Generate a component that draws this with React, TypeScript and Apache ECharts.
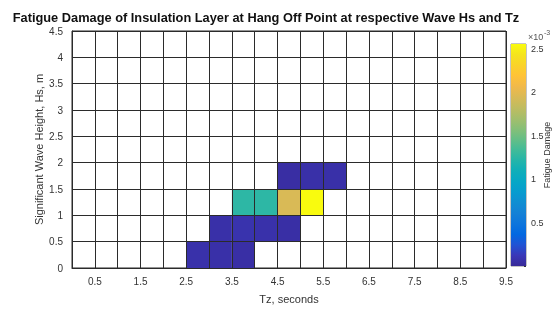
import React, { useEffect, useRef } from "react";
import * as echarts from "echarts";

// ---- data ----
const xTickLabels = ["0.5", "1.5", "2.5", "3.5", "4.5", "5.5", "6.5", "7.5", "8.5", "9.5"];
const yTickLabels = ["0", "0.5", "1", "1.5", "2", "2.5", "3", "3.5", "4", "4.5"];
const colorbarTickLabels = ["0.5", "1", "1.5", "2", "2.5"];
// left edge of each Tz bin (s) and bottom edge of each Hs bin (m)
const cellTz = [2.5, 3.0, 3.5, 3.0, 3.5, 4.0, 4.5, 3.5, 4.0, 4.5, 5.0, 4.5, 5.0, 5.5];
const cellHs = [0, 0, 0, 0.5, 0.5, 0.5, 0.5, 1.0, 1.0, 1.0, 1.0, 1.5, 1.5, 1.5];
// fatigue damage, x 1e-3
const damage = [0.07, 0.06, 0.05, 0.06, 0.08, 0.07, 0.05, 1.25, 1.25, 1.95, 2.558, 0.04, 0.06, 0.06];

const binWidth = 0.5;

// parula-like colormap (style)
const parula = [
  "#382a98", "#3a37b8", "#2053d4", "#0268e1", "#0d75dc", "#1481d6", "#108ed2",
  "#079ccf", "#06a7c6", "#0faeb9", "#25b5a9", "#42bb98", "#65be86", "#87bf77",
  "#a5be6b", "#c0bc60", "#d9ba56", "#f1b94a", "#ffc337", "#fad32a", "#f5e41d", "#f9fb0e",
];

const FONT = "Liberation Sans, Arial, Helvetica, sans-serif";
const TEXT = "#333333";
const LINE = "#2b2b2b";

export default function App() {
  const ref = useRef<HTMLDivElement>(null);
  useEffect(() => {
    if (!ref.current) return;
    const chart = echarts.init(ref.current, undefined, { renderer: "svg" });
    const dmax = Math.max(...damage);
    const cells = cellTz.map((tz, i) => [tz, cellHs[i], damage[i]]);
    const gradStops = parula
      .slice()
      .reverse()
      .map((c, i, arr) => ({ offset: i / (arr.length - 1), color: c }));

    chart.setOption({
      animation: false,
      textStyle: { fontFamily: FONT },
      grid: [
        { left: 72, right: 51, top: 31, bottom: 35, show: true, borderColor: LINE, borderWidth: 1, backgroundColor: "#fff" },
        { left: 511, width: 15, top: 44, height: 222, show: true, borderColor: "#8a8a8a", borderWidth: 1 },
      ],
      graphic: [
        {
          type: "text",
          x: 266,
          y: 17,
          style: {
            text: "Fatigue Damage of Insulation Layer at Hang Off Point at respective Wave Hs and Tz",
            font: `bold 12.8px ${FONT}`,
            fill: "#111",
            textAlign: "center",
            textVerticalAlign: "middle",
          },
        },
        {
          type: "text",
          x: 528,
          y: 37,
          style: { text: "×10", font: `9px ${FONT}`, fill: "#555", textVerticalAlign: "middle" },
        },
        {
          type: "text",
          x: 544,
          y: 32,
          style: { text: "-3", font: `7px ${FONT}`, fill: "#555", textVerticalAlign: "middle" },
        },
      ],
      visualMap: {
        show: false,
        type: "continuous",
        seriesIndex: 0,
        dimension: 2,
        min: 0,
        max: dmax,
        inRange: { color: parula },
      },
      xAxis: [
        {
          type: "value",
          gridIndex: 0,
          min: 0,
          max: 9.5,
          interval: 0.5,
          z: 5,
          name: "Tz, seconds",
          nameLocation: "middle",
          nameGap: 25,
          nameMoveOverlap: false,
          nameTextStyle: { fontSize: 11, color: TEXT, fontFamily: FONT },
          axisLine: { show: true, lineStyle: { color: LINE, width: 1 } },
          axisTick: { show: false },
          splitLine: { show: true, lineStyle: { color: LINE, width: 1 } },
          axisLabel: {
            fontSize: 10,
            color: TEXT,
            margin: 8,
            fontFamily: FONT,
            formatter: (v: number) => {
              const s = String(Math.round(v * 10) / 10);
              return xTickLabels.includes(s) ? s : "";
            },
          },
        },
        {
          type: "category",
          gridIndex: 1,
          data: [""],
          show: false,
        },
      ],
      yAxis: [
        {
          type: "value",
          gridIndex: 0,
          min: 0,
          max: 4.5,
          interval: 0.5,
          z: 5,
          name: "Significant Wave Height, Hs, m",
          nameLocation: "middle",
          nameGap: 28,
          nameMoveOverlap: false,
          nameRotate: 90,
          nameTextStyle: { fontSize: 11, color: TEXT, fontFamily: FONT },
          axisLine: { show: true, lineStyle: { color: LINE, width: 1 } },
          axisTick: { show: false },
          splitLine: { show: true, lineStyle: { color: LINE, width: 1 } },
          axisLabel: {
            fontSize: 10,
            color: TEXT,
            margin: 9,
            fontFamily: FONT,
            formatter: (v: number) => {
              const s = String(Math.round(v * 10) / 10);
              return yTickLabels.includes(s) ? s : "";
            },
          },
        },
        {
          type: "value",
          gridIndex: 1,
          position: "right",
          min: 0,
          max: dmax,
          interval: 0.5,
          name: "Fatigue Damage",
          nameLocation: "middle",
          nameGap: 16,
          nameMoveOverlap: false,
          nameRotate: 90,
          nameTextStyle: { fontSize: 9, color: TEXT, fontFamily: FONT },
          axisLine: { show: false },
          axisTick: { show: true, inside: true, length: 2, lineStyle: { color: "#333" } },
          splitLine: { show: false },
          axisLabel: {
            fontSize: 9,
            color: TEXT,
            margin: 5,
            fontFamily: FONT,
            formatter: (v: number) => {
              const s = String(Math.round(v * 10) / 10);
              return colorbarTickLabels.includes(s) && Math.abs(v - Math.round(v * 2) / 2) < 1e-9 ? s : "";
            },
          },
        },
      ],
      series: [
        {
          type: "custom",
          xAxisIndex: 0,
          yAxisIndex: 0,
          z: 2,
          data: cells,
          renderItem: (params: any, api: any) => {
            const x0 = api.value(0);
            const y0 = api.value(1);
            const p = api.coord([x0, y0 + binWidth]);
            const s = api.size([binWidth, binWidth]);
            return {
              type: "rect",
              shape: { x: p[0], y: p[1], width: s[0], height: s[1] },
              style: { fill: api.visual("color") },
            };
          },
        },
        {
          type: "bar",
          xAxisIndex: 1,
          yAxisIndex: 1,
          barWidth: "100%",
          silent: true,
          data: [dmax],
          itemStyle: {
            color: new echarts.graphic.LinearGradient(0, 0, 0, 1, gradStops),
          },
        },
      ],
    });
    return () => chart.dispose();
  }, []);
  return <div ref={ref} style={{ position: "fixed", left: 0, top: 0, width: 557, height: 309 }} />;
}
